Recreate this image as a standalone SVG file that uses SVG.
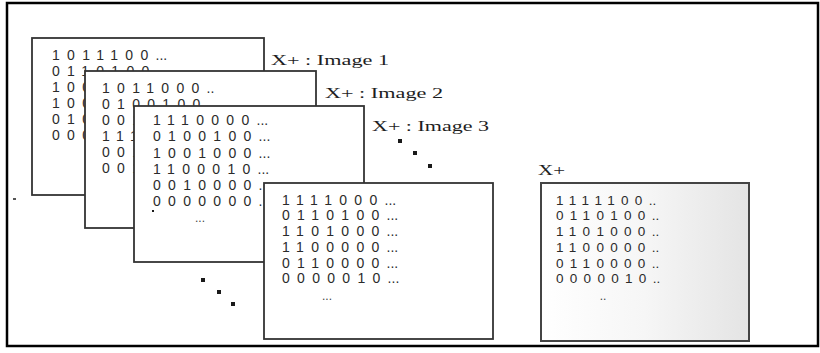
<svg xmlns="http://www.w3.org/2000/svg" width="820" height="353" viewBox="0 0 820 353">
<style>
.card{fill:#fff;stroke:#333;stroke-width:1.8}
.d{font-family:"Liberation Sans",Arial,sans-serif;font-size:14px;fill:#2b2b2b}
.b{letter-spacing:7.3px}
.d5{font-family:"Liberation Sans",Arial,sans-serif;font-size:13.5px;fill:#2b2b2b}
.b5{letter-spacing:6.3px}
.lbl{font-family:"Liberation Serif","Times New Roman",serif;font-size:15.5px;fill:#1e1e1e}
.el{font-family:"Liberation Sans",Arial,sans-serif;font-size:12px;fill:#444;text-anchor:middle}
.dot{fill:#1a1a1a}
</style>
<defs>
<linearGradient id="scan" x1="0" y1="0" x2="1" y2="0">
<stop offset="0" stop-color="#ffffff"/>
<stop offset="0.5" stop-color="#f6f6f6"/>
<stop offset="1" stop-color="#e4e4e4"/>
</linearGradient>
</defs>
<rect width="820" height="353" fill="#fff"/>
<rect id="frame" x="7" y="3" width="811" height="343" fill="none" stroke="#000" stroke-width="2.5"/>

<g id="card1">
<rect class="card" x="32" y="38" width="232" height="157"/>
<text class="d" x="52" y="60"><tspan class="b">1011100</tspan>...</text>
<text class="d" x="52" y="76"><tspan class="b">0110100</tspan></text>
<text class="d b" x="52" y="92">100</text>
<text class="d b" x="52" y="108">100</text>
<text class="d b" x="52" y="124">010</text>
<text class="d b" x="52" y="140">000</text>
<text class="lbl" x="271" y="65" textLength="118" lengthAdjust="spacingAndGlyphs">X+ : Image 1</text>
</g>

<g id="card2">
<rect class="card" x="85" y="71" width="231" height="157"/>
<text class="d" x="102" y="93"><tspan class="b">1011000</tspan>..</text>
<text class="d" x="102" y="109"><tspan class="b">0100100</tspan></text>
<text class="d b" x="102" y="125">001</text>
<text class="d b" x="102" y="141">111</text>
<text class="d b" x="102" y="157">001</text>
<text class="d b" x="102" y="173">001</text>
<text class="lbl" x="325" y="98" textLength="118" lengthAdjust="spacingAndGlyphs">X+ : Image 2</text>
</g>

<g id="card3">
<rect class="card" x="134" y="106" width="230" height="156"/>
<text class="d" x="153" y="125"><tspan class="b">1110000</tspan>...</text>
<text class="d" x="153" y="141"><tspan class="b">0100100</tspan>...</text>
<text class="d" x="153" y="158"><tspan class="b">1001000</tspan>...</text>
<text class="d" x="153" y="174"><tspan class="b">1100010</tspan>...</text>
<text class="d" x="153" y="190"><tspan class="b">0010000</tspan>.</text>
<text class="d" x="153" y="206"><tspan class="b">0000000</tspan>.</text>
<rect class="dot" x="152" y="210" width="2" height="2"/>
<text class="el" x="200" y="222">...</text>
<text class="lbl" x="372" y="131" textLength="117" lengthAdjust="spacingAndGlyphs">X+ : Image 3</text>
</g>

<g id="card4">
<rect class="card" x="264" y="183" width="229" height="156"/>
<text class="d" x="282" y="205"><tspan class="b">1111000</tspan>...</text>
<text class="d" x="282" y="220"><tspan class="b">0110100</tspan>...</text>
<text class="d" x="282" y="236"><tspan class="b">1101000</tspan>...</text>
<text class="d" x="282" y="252"><tspan class="b">1100000</tspan>...</text>
<text class="d" x="282" y="268"><tspan class="b">0110000</tspan>...</text>
<text class="d" x="282" y="283"><tspan class="b">0000010</tspan>...</text>
<text class="el" x="327" y="300">...</text>
</g>

<g id="result">
<text class="lbl" x="538" y="175" textLength="27" lengthAdjust="spacingAndGlyphs">X+</text>
<rect x="541" y="183" width="208" height="158" fill="url(#scan)" stroke="#444" stroke-width="2"/>
<text class="d5" x="556" y="205"><tspan class="b5">1111100</tspan>..</text>
<text class="d5" x="556" y="220"><tspan class="b5">0110100</tspan>..</text>
<text class="d5" x="556" y="236"><tspan class="b5">1101000</tspan>..</text>
<text class="d5" x="556" y="252"><tspan class="b5">1100000</tspan>..</text>
<text class="d5" x="556" y="268"><tspan class="b5">0110000</tspan>..</text>
<text class="d5" x="556" y="283"><tspan class="b5">0000010</tspan>..</text>
<text class="el" x="603" y="300">..</text>
</g>

<g id="ellipsis">
<rect class="dot" x="398" y="139" width="4" height="4"/>
<rect class="dot" x="413" y="151" width="4" height="4"/>
<rect class="dot" x="428" y="164" width="4" height="4"/>
<rect class="dot" x="201" y="278" width="4" height="4"/>
<rect class="dot" x="217" y="290" width="4" height="4"/>
<rect class="dot" x="231" y="302" width="4" height="4"/>
<rect x="13" y="198" width="3" height="2" fill="#555"/>
</g>
</svg>
